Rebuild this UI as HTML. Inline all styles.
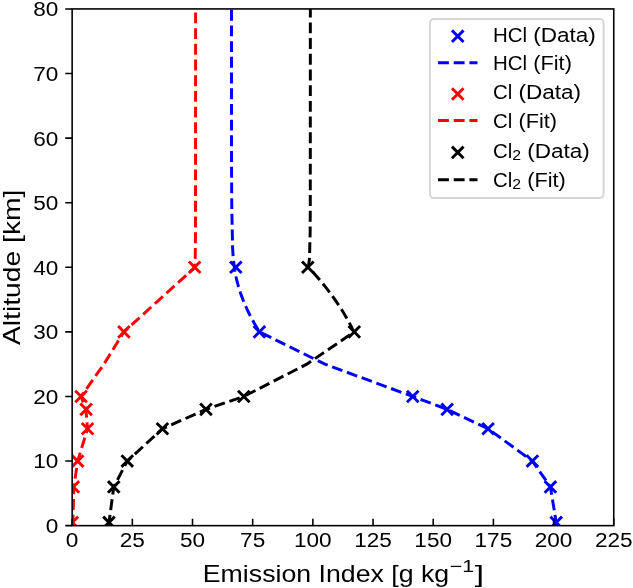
<!DOCTYPE html>
<html><head><meta charset="utf-8"><style>
html,body{margin:0;padding:0;background:#fff;}
body{width:633px;height:588px;position:relative;overflow:hidden;font-family:"Liberation Sans",sans-serif;}
</style></head><body>
<svg width="633" height="588" viewBox="0 0 633 588" style="display:block;position:absolute;left:0;top:0;will-change:transform">
<defs><clipPath id="ax"><rect x="72.15" y="8.93" width="541.6" height="516.72"/></clipPath></defs>
<rect width="633" height="588" fill="#fff"/>
<g clip-path="url(#ax)">
<path d="M550.42 516.62L562.02 528.22M550.42 528.22L562.02 516.62" stroke="#0000ff" stroke-width="2.9" fill="none"/>
<path d="M544.64 481.1L556.24 492.7M544.64 492.7L556.24 481.1" stroke="#0000ff" stroke-width="2.9" fill="none"/>
<path d="M526.59 455.26L538.19 466.86M526.59 466.86L538.19 455.26" stroke="#0000ff" stroke-width="2.9" fill="none"/>
<path d="M482.3 422.96L493.9 434.56M482.3 434.56L493.9 422.96" stroke="#0000ff" stroke-width="2.9" fill="none"/>
<path d="M441.38 403.59L452.98 415.19M441.38 415.19L452.98 403.59" stroke="#0000ff" stroke-width="2.9" fill="none"/>
<path d="M406.96 390.67L418.56 402.27M406.96 402.27L418.56 390.67" stroke="#0000ff" stroke-width="2.9" fill="none"/>
<path d="M253.62 326.08L265.22 337.68M253.62 337.68L265.22 326.08" stroke="#0000ff" stroke-width="2.9" fill="none"/>
<path d="M230.03 261.49L241.63 273.09M230.03 273.09L241.63 261.49" stroke="#0000ff" stroke-width="2.9" fill="none"/>
<path d="M556.7 525.65 L556.22 522.42 L550.44 486.9 L532.39 461.06 L488.1 428.76 L447.18 409.39 L412.76 396.47 L324.9 364.17 L259.42 331.88 L257.53 328.65 L255.59 325.42 L253.72 322.19 L251.94 318.96 L250.24 315.73 L248.61 312.5 L247.07 309.27 L245.6 306.04 L244.22 302.81 L242.92 299.58 L241.7 296.36 L240.55 293.13 L239.49 289.9 L238.51 286.67 L237.61 283.44 L236.78 280.21 L236.04 276.98 L235.38 273.75 L234.8 270.52 L234.3 267.29 L233 255.02 L232.6 247.91 L232.35 234.99 L232 218.85 L231.75 202.7 L231.55 170.4 L231.5 138.11 L231.5 8.93" stroke="#0000ff" stroke-width="2.96" fill="none" stroke-dasharray="10.9 4.8" stroke-dashoffset="0.00" stroke-linejoin="round"/>
<path d="M66.59 516.62L78.19 528.22M66.59 528.22L78.19 516.62" stroke="#ff0000" stroke-width="2.9" fill="none"/>
<path d="M67.55 481.1L79.15 492.7M67.55 492.7L79.15 481.1" stroke="#ff0000" stroke-width="2.9" fill="none"/>
<path d="M71.89 455.26L83.49 466.86M71.89 466.86L83.49 455.26" stroke="#ff0000" stroke-width="2.9" fill="none"/>
<path d="M81.76 422.96L93.36 434.56M81.76 434.56L93.36 422.96" stroke="#ff0000" stroke-width="2.9" fill="none"/>
<path d="M80.31 403.59L91.91 415.19M80.31 415.19L91.91 403.59" stroke="#ff0000" stroke-width="2.9" fill="none"/>
<path d="M75.26 390.67L86.86 402.27M75.26 402.27L86.86 390.67" stroke="#ff0000" stroke-width="2.9" fill="none"/>
<path d="M118.1 326.08L129.7 337.68M118.1 337.68L129.7 326.08" stroke="#ff0000" stroke-width="2.9" fill="none"/>
<path d="M188.87 261.49L200.47 273.09M188.87 273.09L200.47 261.49" stroke="#ff0000" stroke-width="2.9" fill="none"/>
<path d="M72.87 525.65 L72.87 522.42 L73.83 486.9 L77.69 461.06 L87.56 428.76 L85.87 409.39 L81.06 396.47 L103.92 364.17 L123.9 331.88 L159.41 299.58 L195.1 267.29 L195.5 234.99 L195.6 8.93" stroke="#ff0000" stroke-width="2.96" fill="none" stroke-dasharray="10.9 4.8" stroke-dashoffset="0.00" stroke-linejoin="round"/>
<path d="M103.18 516.62L114.78 528.22M103.18 528.22L114.78 516.62" stroke="#000000" stroke-width="2.9" fill="none"/>
<path d="M107.99 481.1L119.59 492.7M107.99 492.7L119.59 481.1" stroke="#000000" stroke-width="2.9" fill="none"/>
<path d="M121.47 455.26L133.07 466.86M121.47 466.86L133.07 455.26" stroke="#000000" stroke-width="2.9" fill="none"/>
<path d="M156.62 422.96L168.22 434.56M156.62 434.56L168.22 422.96" stroke="#000000" stroke-width="2.9" fill="none"/>
<path d="M200.19 403.59L211.79 415.19M200.19 415.19L211.79 403.59" stroke="#000000" stroke-width="2.9" fill="none"/>
<path d="M237.98 390.67L249.58 402.27M237.98 402.27L249.58 390.67" stroke="#000000" stroke-width="2.9" fill="none"/>
<path d="M348.46 326.08L360.06 337.68M348.46 337.68L360.06 326.08" stroke="#000000" stroke-width="2.9" fill="none"/>
<path d="M302.01 261.49L313.61 273.09M302.01 273.09L313.61 261.49" stroke="#000000" stroke-width="2.9" fill="none"/>
<path d="M108.5 525.65 L108.98 522.42 L113.79 486.9 L127.27 461.06 L162.42 428.76 L205.99 409.39 L243.78 396.47" stroke="#000000" stroke-width="2.96" fill="none" stroke-dasharray="10.9 4.8" stroke-dashoffset="0.00" stroke-linejoin="round"/>
<path d="M243.78 396.47 L306.84 364.17 L354.26 331.88 L352.28 328.65 L350.65 325.42 L348.94 322.19 L347.16 318.96 L345.31 315.73 L343.38 312.5 L341.37 309.27 L339.29 306.04 L337.14 302.81 L334.91 299.58 L332.6 296.36 L330.22 293.13 L327.76 289.9 L325.23 286.67 L322.62 283.44 L319.94 280.21 L317.18 276.98 L314.35 273.75 L311.44 270.52 L308.4 267.29 L309.5 258.25 L309.75 247.91 L310.15 231.77 L310.3 202.7 L310.35 8.93" stroke="#000000" stroke-width="2.96" fill="none" stroke-dasharray="10.9 4.8" stroke-dashoffset="13.51" stroke-linejoin="round"/>
</g>
<path d="M72.15 525.65V518.74M132.33 525.65V518.74M192.51 525.65V518.74M252.68 525.65V518.74M312.86 525.65V518.74M373.04 525.65V518.74M433.22 525.65V518.74M493.39 525.65V518.74M553.57 525.65V518.74M613.75 525.65V518.74M72.15 525.65H65.24M72.15 461.06H65.24M72.15 396.47H65.24M72.15 331.88H65.24M72.15 267.29H65.24M72.15 202.7H65.24M72.15 138.11H65.24M72.15 73.52H65.24M72.15 8.93H65.24" stroke="#000" stroke-width="1.58" fill="none"/>
<rect x="72.15" y="8.93" width="541.6" height="516.72" fill="none" stroke="#000" stroke-width="1.58" stroke-linejoin="miter"/>
<g font-family="Liberation Sans, sans-serif" fill="#000">
<text x="72.15" y="547.2" font-size="20.11" text-anchor="middle" textLength="12.57" lengthAdjust="spacingAndGlyphs">0</text>
<text x="132.33" y="547.2" font-size="20.11" text-anchor="middle" textLength="25.13" lengthAdjust="spacingAndGlyphs">25</text>
<text x="192.51" y="547.2" font-size="20.11" text-anchor="middle" textLength="25.13" lengthAdjust="spacingAndGlyphs">50</text>
<text x="252.68" y="547.2" font-size="20.11" text-anchor="middle" textLength="25.13" lengthAdjust="spacingAndGlyphs">75</text>
<text x="312.86" y="547.2" font-size="20.11" text-anchor="middle" textLength="37.7" lengthAdjust="spacingAndGlyphs">100</text>
<text x="373.04" y="547.2" font-size="20.11" text-anchor="middle" textLength="37.7" lengthAdjust="spacingAndGlyphs">125</text>
<text x="433.22" y="547.2" font-size="20.11" text-anchor="middle" textLength="37.7" lengthAdjust="spacingAndGlyphs">150</text>
<text x="493.39" y="547.2" font-size="20.11" text-anchor="middle" textLength="37.7" lengthAdjust="spacingAndGlyphs">175</text>
<text x="553.57" y="547.2" font-size="20.11" text-anchor="middle" textLength="37.7" lengthAdjust="spacingAndGlyphs">200</text>
<text x="613.75" y="547.2" font-size="20.11" text-anchor="middle" textLength="37.7" lengthAdjust="spacingAndGlyphs">225</text>
<text x="58.3" y="533.05" font-size="20.11" text-anchor="end" textLength="12.57" lengthAdjust="spacingAndGlyphs">0</text>
<text x="58.3" y="468.46" font-size="20.11" text-anchor="end" textLength="25.13" lengthAdjust="spacingAndGlyphs">10</text>
<text x="58.3" y="403.87" font-size="20.11" text-anchor="end" textLength="25.13" lengthAdjust="spacingAndGlyphs">20</text>
<text x="58.3" y="339.28" font-size="20.11" text-anchor="end" textLength="25.13" lengthAdjust="spacingAndGlyphs">30</text>
<text x="58.3" y="274.69" font-size="20.11" text-anchor="end" textLength="25.13" lengthAdjust="spacingAndGlyphs">40</text>
<text x="58.3" y="210.1" font-size="20.11" text-anchor="end" textLength="25.13" lengthAdjust="spacingAndGlyphs">50</text>
<text x="58.3" y="145.51" font-size="20.11" text-anchor="end" textLength="25.13" lengthAdjust="spacingAndGlyphs">60</text>
<text x="58.3" y="80.92" font-size="20.11" text-anchor="end" textLength="25.13" lengthAdjust="spacingAndGlyphs">70</text>
<text x="58.3" y="16.33" font-size="20.11" text-anchor="end" textLength="25.13" lengthAdjust="spacingAndGlyphs">80</text>
<text x="202.8" y="581.5" font-size="24.13" text-anchor="start" textLength="246.35" lengthAdjust="spacingAndGlyphs">Emission Index [g kg</text>
<text x="449.65" y="572.4" font-size="16.89" text-anchor="start" textLength="24.46" lengthAdjust="spacingAndGlyphs">−1</text>
<text x="474.71" y="581.5" font-size="24.13" text-anchor="start" textLength="9.25" lengthAdjust="spacingAndGlyphs">]</text>
<g transform="translate(20 267.29) rotate(-90)"><text x="0" y="0" font-size="24.13" text-anchor="middle" textLength="155.45" lengthAdjust="spacingAndGlyphs">Altitude [km]</text></g>
</g>
<rect x="429.9" y="19" width="173.7" height="179.1" rx="4" ry="4" fill="#fff" fill-opacity="0.8" stroke="#cccccc" stroke-opacity="0.8" stroke-width="1.98"/>
<path d="M451.95 30.4L463.55 42M451.95 42L463.55 30.4" stroke="#0000ff" stroke-width="2.9" fill="none"/>
<path d="M438 62.8H477.5" stroke="#0000ff" stroke-width="2.96" stroke-dasharray="10.9 4.8"/>
<path d="M451.95 88.2L463.55 99.8M451.95 99.8L463.55 88.2" stroke="#ff0000" stroke-width="2.9" fill="none"/>
<path d="M438 120.4H477.5" stroke="#ff0000" stroke-width="2.96" stroke-dasharray="10.9 4.8"/>
<path d="M451.95 146.6L463.55 158.2M451.95 158.2L463.55 146.6" stroke="#000000" stroke-width="2.9" fill="none"/>
<path d="M438 179.8H477.5" stroke="#000000" stroke-width="2.96" stroke-dasharray="10.9 4.8"/>
<g font-family="Liberation Sans, sans-serif" fill="#000">
<text x="492.9" y="41.7" font-size="20.11" text-anchor="start" textLength="34.13" lengthAdjust="spacingAndGlyphs">HCl</text>
<text x="533.31" y="41.7" font-size="20.11" text-anchor="start" textLength="62.57" lengthAdjust="spacingAndGlyphs">(Data)</text>
<text x="492.9" y="70.2" font-size="20.11" text-anchor="start" textLength="34.13" lengthAdjust="spacingAndGlyphs">HCl</text>
<text x="533.31" y="70.2" font-size="20.11" text-anchor="start" textLength="38.56" lengthAdjust="spacingAndGlyphs">(Fit)</text>
<text x="492.9" y="99.3" font-size="20.11" text-anchor="start" textLength="19.28" lengthAdjust="spacingAndGlyphs">Cl</text>
<text x="518.46" y="99.3" font-size="20.11" text-anchor="start" textLength="62.57" lengthAdjust="spacingAndGlyphs">(Data)</text>
<text x="492.9" y="128" font-size="20.11" text-anchor="start" textLength="19.28" lengthAdjust="spacingAndGlyphs">Cl</text>
<text x="518.46" y="128" font-size="20.11" text-anchor="start" textLength="38.56" lengthAdjust="spacingAndGlyphs">(Fit)</text>
<text x="492.9" y="157.6" font-size="20.11" text-anchor="start" textLength="19.28" lengthAdjust="spacingAndGlyphs">Cl</text>
<text x="512.18" y="160.2" font-size="14.08" text-anchor="start" textLength="8.8" lengthAdjust="spacingAndGlyphs">2</text>
<text x="527.25" y="157.6" font-size="20.11" text-anchor="start" textLength="62.57" lengthAdjust="spacingAndGlyphs">(Data)</text>
<text x="492.9" y="186.7" font-size="20.11" text-anchor="start" textLength="19.28" lengthAdjust="spacingAndGlyphs">Cl</text>
<text x="512.18" y="189.3" font-size="14.08" text-anchor="start" textLength="8.8" lengthAdjust="spacingAndGlyphs">2</text>
<text x="527.25" y="186.7" font-size="20.11" text-anchor="start" textLength="38.56" lengthAdjust="spacingAndGlyphs">(Fit)</text>
</g>
</svg>
</body></html>
